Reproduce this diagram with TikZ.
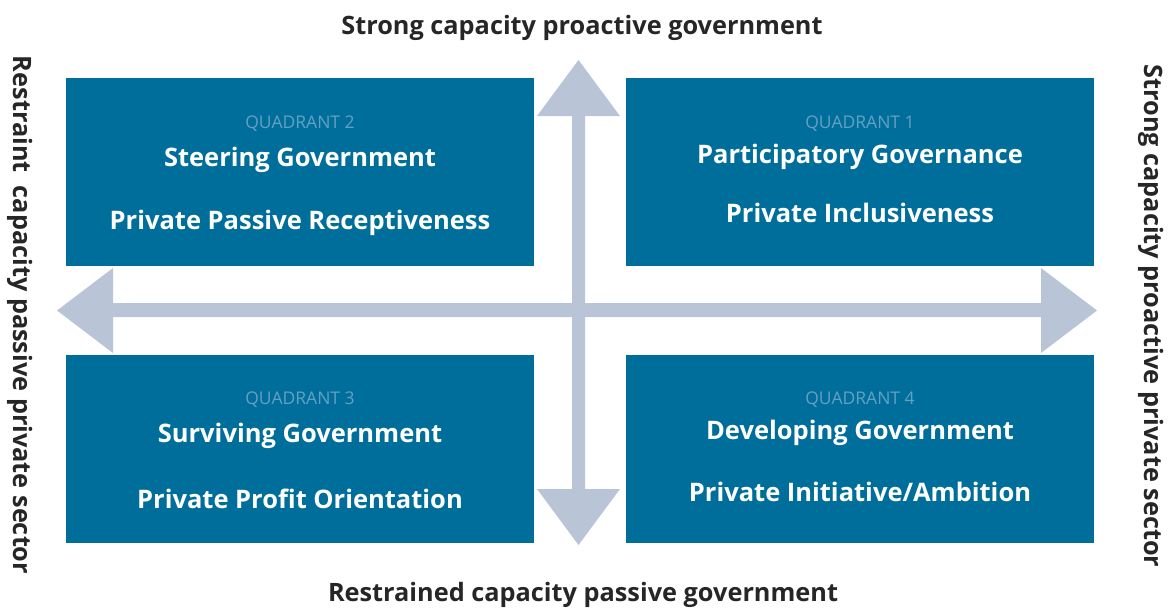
\documentclass[tikz,border=0pt]{standalone}
\usepackage{fontspec}
\setmainfont{Open Sans}
\definecolor{boxblue}{RGB}{0,110,155}
\definecolor{axisblue}{RGB}{185,197,215}
\definecolor{qlabel}{RGB}{100,160,195}
\begin{document}
\begin{tikzpicture}[x=1pt,y=-1pt,
  quad/.style={fill=boxblue,draw=none,minimum width=468pt,minimum height=188pt,inner sep=0pt,anchor=north west},
  qlab/.style={text=qlabel,font=\fontsize{17.5}{20}\selectfont,inner sep=0pt},
  qtxt/.style={text=white,font=\bfseries\fontsize{25.5}{30}\selectfont,inner sep=0pt},
  axtitle/.style={text=black!85,font=\bfseries\fontsize{25.3}{30}\selectfont,inner sep=0pt},
  axis/.style={fill=axisblue,draw=none}]
\useasboundingbox (0,0) rectangle (1172,608);
% boxes
\node[quad] (q2) at (66,78) {};
\node[quad] (q1) at (626,78) {};
\node[quad] (q3) at (66,355) {};
\node[quad] (q4) at (626,355) {};
% axes
\fill[axis] (572,116) -- (537,116) -- (578.5,60) -- (620,116) -- (585,116) -- (585,489)
  -- (620,489) -- (578.5,545) -- (537,489) -- (572,489) -- cycle;
\fill[axis] (113,303) -- (113,268) -- (57,310.5) -- (113,353) -- (113,317) -- (1041,317)
  -- (1041,353) -- (1097,310.5) -- (1041,268) -- (1041,303) -- cycle;
% quadrant texts
\node[qlab] (l2) at (300,124) {QUADRANT 2};
\node[qtxt] (a2) at (300,160) {Steering Government};
\node[qtxt] (b2) at (300,223) {Private Passive Receptiveness};
\node[qlab] (l1) at (860,124) {QUADRANT 1};
\node[qtxt] (a1) at (860,157) {Participatory Governance};
\node[qtxt] (b1) at (860,213) {Private Inclusiveness};
\node[qlab] (l3) at (300,400) {QUADRANT 3};
\node[qtxt] (a3) at (300,436) {Surviving Government};
\node[qtxt] (b3) at (300,499) {Private Profit Orientation};
\node[qlab] (l4) at (860,400) {QUADRANT 4};
\node[qtxt] (a4) at (860,433) {Developing Government};
\node[qtxt] (b4) at (860,492) {Private Initiative/Ambition};
% axis titles
\node[axtitle] (top) at (582,28) {Strong capacity proactive government};
\node[axtitle] (bot) at (583,595) {Restrained capacity passive government};
\node[axtitle,rotate=-90] (left) at (20,315) {Restraint\ \ capacity passive private sector};
\node[axtitle,rotate=-90] (right) at (1151,316) {Strong capacity proactive private sector};
\end{tikzpicture}
\end{document}
